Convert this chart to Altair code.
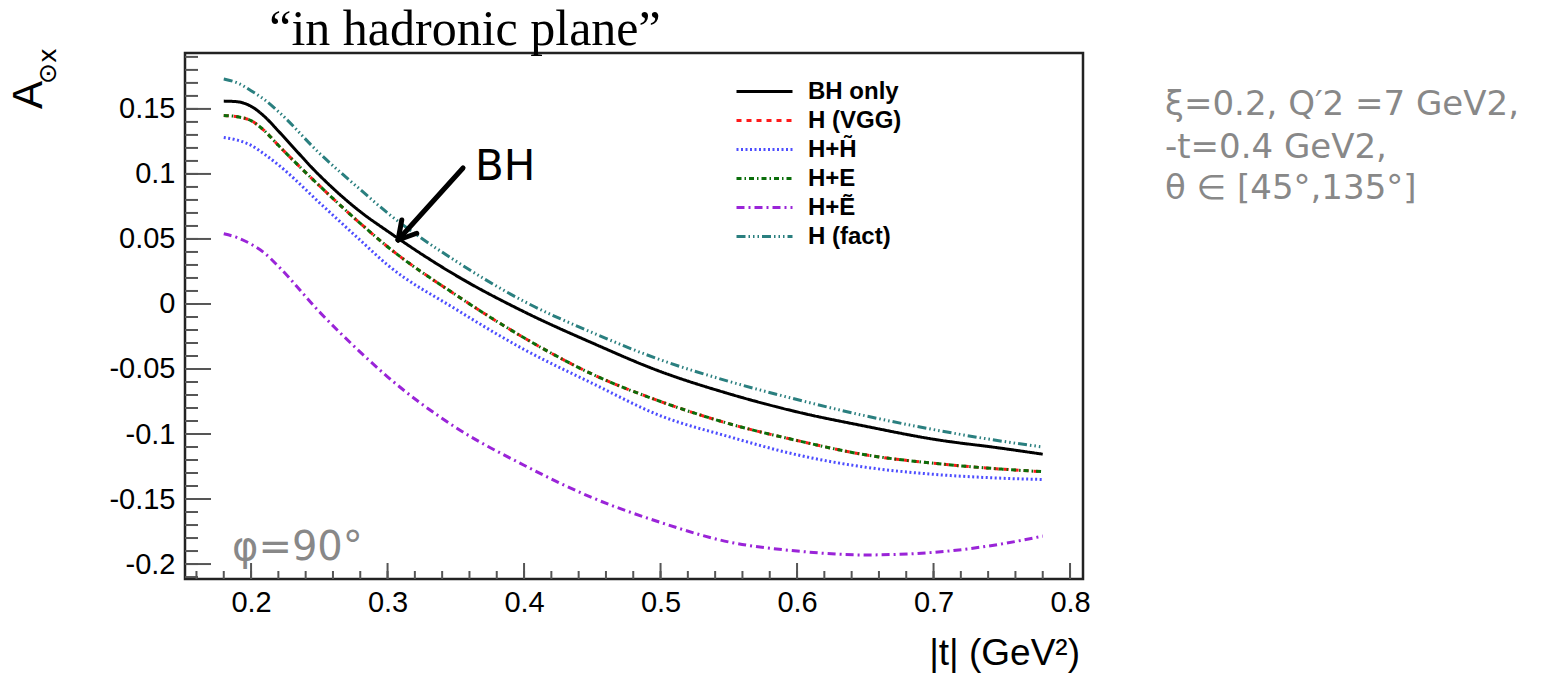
import altair as alt
import pandas as pd
import numpy as np

# ---------------- data ----------------
T = [0.18, 0.19, 0.20, 0.21, 0.22, 0.25, 0.28, 0.30, 0.35, 0.40, 0.45,
     0.50, 0.55, 0.60, 0.65, 0.70, 0.75, 0.78]

BH_ONLY = [0.156, 0.1555, 0.152, 0.144, 0.133, 0.099, 0.071, 0.056, 0.022,
           -0.006, -0.030, -0.052, -0.069, -0.083, -0.094, -0.104, -0.111, -0.1155]
H_VGG = [0.145, 0.144, 0.141, 0.133, 0.122, 0.091, 0.062, 0.044, 0.007,
         -0.026, -0.054, -0.075, -0.092, -0.105, -0.116, -0.1225, -0.127, -0.129]
H_HT = [0.128, 0.126, 0.122, 0.115, 0.107, 0.078, 0.049, 0.030, -0.004,
        -0.035, -0.061, -0.086, -0.102, -0.116, -0.1255, -0.131, -0.134, -0.135]
H_E = [0.145, 0.144, 0.141, 0.133, 0.122, 0.091, 0.062, 0.044, 0.007,
       -0.026, -0.054, -0.075, -0.092, -0.105, -0.116, -0.1225, -0.127, -0.129]
H_ET = [0.054, 0.051, 0.046, 0.039, 0.029, -0.006, -0.037, -0.056, -0.095,
        -0.124, -0.149, -0.168, -0.183, -0.190, -0.193, -0.191, -0.1845, -0.1785]
H_FACT = [0.173, 0.170, 0.164, 0.157, 0.148, 0.116, 0.088, 0.070, 0.033,
          0.002, -0.022, -0.043, -0.0595, -0.0735, -0.086, -0.0966, -0.1055, -0.110]

SERIES = ["BH only", "H (VGG)", "H+H\u0303", "H+E", "H+\u1EBC", "H (fact)"]
VALUES = [BH_ONLY, H_VGG, H_HT, H_E, H_ET, H_FACT]
COLORS = ["#000000", "#ff1a1a", "#4d4dff", "#0b6e0b", "#9a24d8", "#2a7f7f"]
DASHES = [[1, 0], [5, 5], [2, 2.5], [5, 3, 1.5, 3], [8, 4, 2, 4],
          [9, 3, 1.5, 3, 1.5, 3, 1.5, 3]]

XTICKS = [0.2, 0.3, 0.4, 0.5, 0.6, 0.7, 0.8]
YTICKS = [-0.2, -0.15, -0.1, -0.05, 0.0, 0.05, 0.1, 0.15]
XDOM = [0.1516, 0.8095]
YDOM = [-0.2115, 0.193]

# annotation arrow (data coordinates): shaft + two head arms
ARROW_T = [0.3553, 0.3077, 0.3077]
ARROW_V = [0.1046, 0.0492, 0.0492]
ARROW_T2 = [0.3077, 0.3104, 0.3214]
ARROW_V2 = [0.0492, 0.0646, 0.0544]

# ---------------- build tables ----------------
rows = []
for name, vals in zip(SERIES, VALUES):
    for i, (t, v) in enumerate(zip(T, vals)):
        rows.append({"t": t, "v": v, "series": name, "o": i})
curves = pd.DataFrame(rows)

x_minor = pd.DataFrame({"t": np.round(np.arange(0.16, 0.801, 0.02), 3)})
y_minor = pd.DataFrame({"v": np.round(np.arange(-0.21, 0.1901, 0.01), 3)})
x_major = pd.DataFrame({"t": XTICKS})
y_major = pd.DataFrame({"v": YTICKS})
arrow = pd.DataFrame({"t": ARROW_T, "v": ARROW_V, "t2": ARROW_T2, "v2": ARROW_V2})

W, H = 898, 526
xscale = alt.Scale(domain=XDOM, nice=False, zero=False)
yscale = alt.Scale(domain=YDOM, nice=False, zero=False)

LABEL_FONT = "Liberation Sans"
xaxis = alt.Axis(title=None, values=XTICKS, grid=False, domain=False, ticks=False,
                 labelFont=LABEL_FONT, labelFontSize=29, labelColor="black",
                 labelPadding=9, labelExpr="'' + round(datum.value*100)/100")
yaxis = alt.Axis(title=None, values=YTICKS, grid=False, domain=False, ticks=False,
                 labelFont=LABEL_FONT, labelFontSize=29, labelColor="black",
                 labelPadding=10, labelExpr="'' + round(datum.value*100)/100")

X = lambda f: alt.X(f, type="quantitative", scale=xscale, axis=xaxis)
Y = lambda f: alt.Y(f, type="quantitative", scale=yscale, axis=yaxis)

TICK_COLOR = "#555555"
ytick_major = alt.Chart(y_major).mark_rule(color=TICK_COLOR, strokeWidth=2).encode(
    y=Y("v"), x=alt.value(0), x2=alt.value(26))
ytick_minor = alt.Chart(y_minor).mark_rule(color=TICK_COLOR, strokeWidth=2).encode(
    y=Y("v"), x=alt.value(0), x2=alt.value(13))
xtick_major = alt.Chart(x_major).mark_rule(color=TICK_COLOR, strokeWidth=2).encode(
    x=X("t"), y=alt.value(H), y2=alt.value(H - 16))
xtick_minor = alt.Chart(x_minor).mark_rule(color=TICK_COLOR, strokeWidth=2).encode(
    x=X("t"), y=alt.value(H), y2=alt.value(H - 8))

legend = alt.Legend(orient="none", legendX=550, legendY=26, title=None,
                    symbolType="stroke", symbolSize=3136, symbolStrokeWidth=3,
                    labelFont=LABEL_FONT, labelFontSize=24, labelFontWeight="bold",
                    labelColor="black", rowPadding=4, clipHeight=25, labelOffset=14,
                    padding=0, labelLimit=300)

lines = alt.Chart(curves).mark_line(strokeWidth=3, interpolate="monotone").encode(
    x=X("t"), y=Y("v"),
    order=alt.Order("o:Q"),
    color=alt.Color("series:N", scale=alt.Scale(domain=SERIES, range=COLORS), legend=legend),
    strokeDash=alt.StrokeDash("series:N", scale=alt.Scale(domain=SERIES, range=DASHES), legend=legend),
)

arrow_layer = alt.Chart(arrow).mark_rule(color="black", strokeWidth=5, strokeCap="round").encode(
    x=X("t"), y=Y("v"), x2="t2:Q", y2="v2:Q")

one = pd.DataFrame({"a": [0]})

def label(text, x, y, size, font="DejaVu Sans", color="black", align="left",
          baseline="alphabetic", angle=0, weight="normal"):
    return alt.Chart(one).mark_text(
        text=text, font=font, fontSize=size, color=color, align=align,
        baseline=baseline, angle=angle, fontWeight=weight
    ).encode(x=alt.value(x), y=alt.value(y))

texts = [
    label("\u201cin hadronic plane\u201d", 280, -8, 50, font="Liberation Serif", align="center"),
    label("BH", 290, 127, 42),
    label("\u03c6=90\u00b0", 47, 507, 40, color="#888888"),
    label("\u03be=0.2, Q\u20322 =7 GeV2,", 980, 62, 34, color="#888888"),
    label("-t=0.4 GeV2,", 980, 105, 34, color="#888888"),
    label("\u03b8 \u2208 [45\u00b0,135\u00b0]", 980, 146, 34, color="#888888"),
    label("|t| (GeV\u00b2)", 895, 612, 37, font=LABEL_FONT, align="right"),
    label("A", -156, 42, 42, font=LABEL_FONT, align="center", baseline="middle", angle=270),
    label("\u2299x", -137, 13, 25, font="DejaVu Sans", align="center", baseline="middle", angle=270),
]

chart = alt.layer(
    ytick_minor, ytick_major, xtick_minor, xtick_major, lines, arrow_layer, *texts
).properties(
    width=W, height=H,
    padding={"left": 185, "top": 53, "right": 481, "bottom": 97},
    autosize=alt.AutoSizeParams(type="none"),
    background="white",
).configure_view(stroke="#222222", strokeWidth=2.5)

chart.save("out.html", embed_options={"renderer": "svg", "actions": False})
